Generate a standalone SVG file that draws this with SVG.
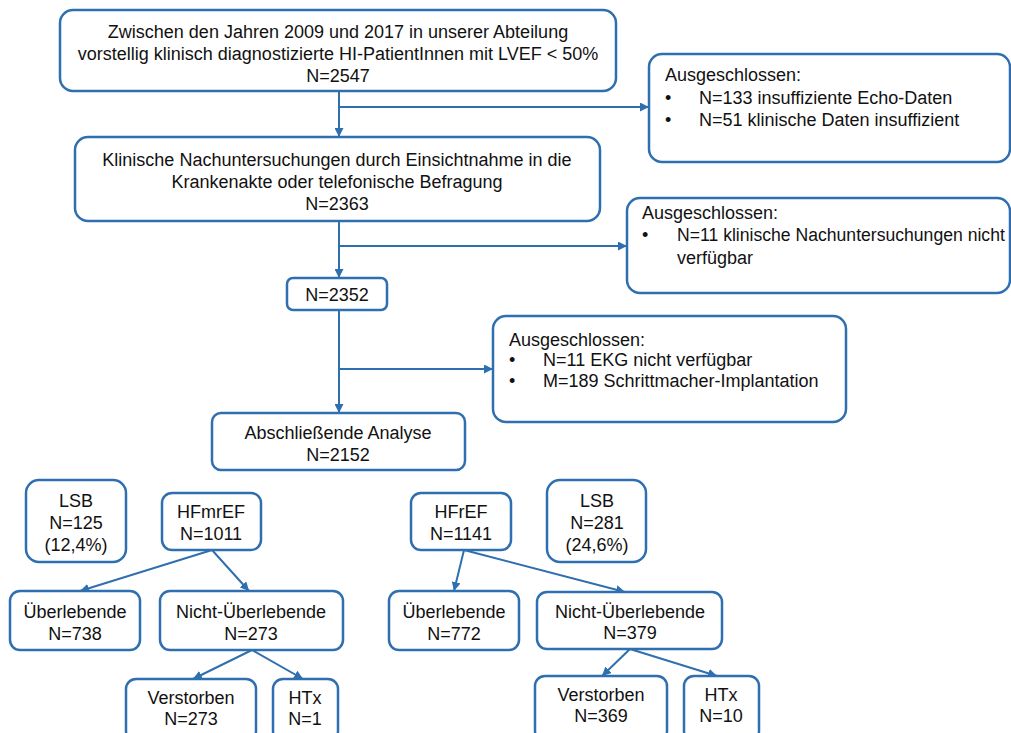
<svg xmlns="http://www.w3.org/2000/svg" width="1011" height="733" viewBox="0 0 1011 733">
<defs>
<style>
.box{fill:#fff;stroke:#2f6fb0;stroke-width:2.5}
.ln{fill:none;stroke:#2f6fb0;stroke-width:2}
.t{font-family:"Liberation Sans",Arial,sans-serif;font-size:18px;fill:#111}
.c{text-anchor:middle}
</style>
<marker id="ah" viewBox="0 0 10 10" refX="10" refY="5" markerWidth="9" markerHeight="9" markerUnits="userSpaceOnUse" orient="auto">
<path d="M0,0 L10,5 L0,10 z" fill="#2f6fb0"/>
</marker>
</defs>
<rect width="1011" height="733" fill="#fff"/>

<g id="connectors">
<line class="ln" x1="339" y1="91" x2="339" y2="137" marker-end="url(#ah)"/>
<line class="ln" x1="339" y1="107" x2="649" y2="107" marker-end="url(#ah)"/>
<line class="ln" x1="339" y1="220" x2="339" y2="278" marker-end="url(#ah)"/>
<line class="ln" x1="339" y1="246" x2="627" y2="246" marker-end="url(#ah)"/>
<line class="ln" x1="339" y1="310" x2="339" y2="413" marker-end="url(#ah)"/>
<line class="ln" x1="339" y1="369" x2="493" y2="369" marker-end="url(#ah)"/>
<line class="ln" x1="212" y1="550" x2="80" y2="591" marker-end="url(#ah)"/>
<line class="ln" x1="212" y1="550" x2="249" y2="591" marker-end="url(#ah)"/>
<line class="ln" x1="252" y1="650" x2="193" y2="679" marker-end="url(#ah)"/>
<line class="ln" x1="252" y1="650" x2="303" y2="679" marker-end="url(#ah)"/>
<line class="ln" x1="464" y1="550" x2="454" y2="591" marker-end="url(#ah)"/>
<line class="ln" x1="464" y1="550" x2="625" y2="592" marker-end="url(#ah)"/>
<line class="ln" x1="630" y1="649" x2="602" y2="676" marker-end="url(#ah)"/>
<line class="ln" x1="630" y1="649" x2="717" y2="676" marker-end="url(#ah)"/>
</g>

<g id="n-start">
<rect class="box" x="60" y="10" width="556" height="81" rx="13"/>
<text class="t c" x="338" y="38">Zwischen den Jahren 2009 und 2017 in unserer Abteilung</text>
<text class="t c" x="338" y="60">vorstellig klinisch diagnostizierte HI-PatientInnen mit LVEF &lt; 50%</text>
<text class="t c" x="338" y="82">N=2547</text>
</g>

<g id="n-excl1">
<rect class="box" x="649" y="54" width="361" height="108" rx="13"/>
<text class="t" x="665" y="81">Ausgeschlossen:</text>
<text class="t" x="665" y="104">•</text>
<text class="t" x="699" y="104">N=133 insuffiziente Echo-Daten</text>
<text class="t" x="665" y="126">•</text>
<text class="t" x="699" y="126">N=51 klinische Daten insuffizient</text>
</g>

<g id="n-followup">
<rect class="box" x="75" y="137" width="525" height="84" rx="13"/>
<text class="t c" x="337" y="166">Klinische Nachuntersuchungen durch Einsichtnahme in die</text>
<text class="t c" x="337" y="188">Krankenakte oder telefonische Befragung</text>
<text class="t c" x="337" y="210">N=2363</text>
</g>

<g id="n-excl2">
<rect class="box" x="627" y="198" width="383" height="95" rx="13"/>
<text class="t" x="642" y="219">Ausgeschlossen:</text>
<text class="t" x="642" y="241">•</text>
<text class="t" x="677" y="241" style="font-size:17.6px">N=11 klinische Nachuntersuchungen nicht</text>
<text class="t" x="677" y="264">verfügbar</text>
</g>

<g id="n-2352">
<rect class="box" x="287" y="278" width="100" height="32" rx="6"/>
<text class="t c" x="337" y="301">N=2352</text>
</g>

<g id="n-excl3">
<rect class="box" x="493" y="316" width="353" height="106" rx="13"/>
<text class="t" x="509" y="346">Ausgeschlossen:</text>
<text class="t" x="509" y="366">•</text>
<text class="t" x="543" y="366">N=11 EKG nicht verfügbar</text>
<text class="t" x="509" y="387">•</text>
<text class="t" x="543" y="387">M=189 Schrittmacher-Implantation</text>
</g>

<g id="n-analysis">
<rect class="box" x="212" y="413" width="253" height="57" rx="9"/>
<text class="t c" x="338" y="439">Abschließende Analyse</text>
<text class="t c" x="338" y="461">N=2152</text>
</g>

<g id="n-lsb1">
<rect class="box" x="26" y="480" width="100" height="82" rx="13"/>
<text class="t c" x="76" y="507">LSB</text>
<text class="t c" x="76" y="529">N=125</text>
<text class="t c" x="76" y="551">(12,4%)</text>
</g>

<g id="n-hfmref">
<rect class="box" x="162" y="493" width="99" height="57" rx="10"/>
<text class="t c" x="211" y="518">HFmrEF</text>
<text class="t c" x="211" y="540">N=1011</text>
</g>

<g id="n-ueb1">
<rect class="box" x="10" y="591" width="130" height="59" rx="10"/>
<text class="t c" x="75" y="618">Überlebende</text>
<text class="t c" x="75" y="640">N=738</text>
</g>

<g id="n-nueb1">
<rect class="box" x="160" y="591" width="183" height="59" rx="10"/>
<text class="t c" x="251" y="618">Nicht-Überlebende</text>
<text class="t c" x="251" y="640">N=273</text>
</g>

<g id="n-verst1">
<rect class="box" x="126" y="679" width="130" height="62" rx="10"/>
<text class="t c" x="191" y="704">Verstorben</text>
<text class="t c" x="191" y="725">N=273</text>
</g>

<g id="n-htx1">
<rect class="box" x="273" y="679" width="65" height="62" rx="10"/>
<text class="t c" x="305" y="704">HTx</text>
<text class="t c" x="305" y="725">N=1</text>
</g>

<g id="n-hfref">
<rect class="box" x="411" y="493" width="100" height="57" rx="10"/>
<text class="t c" x="461" y="518">HFrEF</text>
<text class="t c" x="461" y="540">N=1141</text>
</g>

<g id="n-lsb2">
<rect class="box" x="547" y="480" width="99" height="82" rx="13"/>
<text class="t c" x="597" y="507">LSB</text>
<text class="t c" x="597" y="529">N=281</text>
<text class="t c" x="597" y="551">(24,6%)</text>
</g>

<g id="n-ueb2">
<rect class="box" x="389" y="591" width="130" height="59" rx="10"/>
<text class="t c" x="454" y="618">Überlebende</text>
<text class="t c" x="454" y="640">N=772</text>
</g>

<g id="n-nueb2">
<rect class="box" x="537" y="592" width="185" height="57" rx="10"/>
<text class="t c" x="630" y="618">Nicht-Überlebende</text>
<text class="t c" x="630" y="639">N=379</text>
</g>

<g id="n-verst2">
<rect class="box" x="535" y="676" width="132" height="65" rx="10"/>
<text class="t c" x="601" y="701">Verstorben</text>
<text class="t c" x="601" y="722">N=369</text>
</g>

<g id="n-htx2">
<rect class="box" x="684" y="676" width="75" height="65" rx="10"/>
<text class="t c" x="721" y="701">HTx</text>
<text class="t c" x="721" y="722">N=10</text>
</g>
</svg>
